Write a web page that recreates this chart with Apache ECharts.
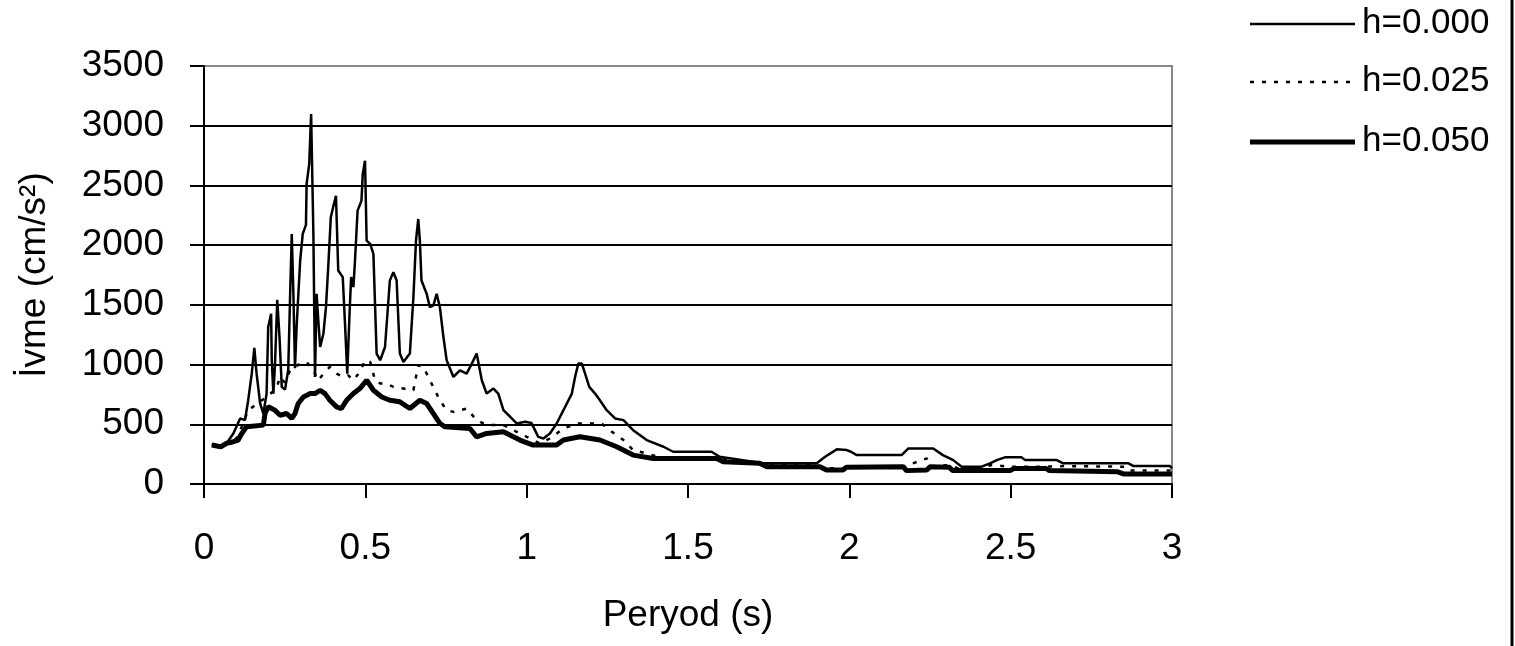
<!DOCTYPE html>
<html><head><meta charset="utf-8">
<script src="https://cdn.jsdelivr.net/npm/echarts@6/dist/echarts.min.js"></script>
<style>html,body{margin:0;padding:0;background:#fff}#c{width:1515px;height:646px}</style>
</head><body><div id="c"></div>
<script>
const seriesNames = ['h=0.000', 'h=0.025', 'h=0.050'];
const xTicks = [0, 0.5, 1, 1.5, 2, 2.5, 3];
const yTicks = [0, 500, 1000, 1500, 2000, 2500, 3000, 3500];

const t000 = [0.025,0.055,0.075,0.091,0.112,0.127,0.137,0.148,0.156,0.163,0.174,0.184,0.194,0.199,0.208,0.210,0.215,0.220,0.227,0.234,0.241,0.251,0.261,0.267,0.272,0.277,0.282,0.287,0.298,0.306,0.316,0.318,0.326,0.332,0.339,0.344,0.349,0.354,0.360,0.370,0.378,0.385,0.393,0.400,0.409,0.416,0.430,0.437,0.444,0.451,0.456,0.463,0.468,0.476,0.488,0.492,0.499,0.504,0.515,0.525,0.535,0.546,0.561,0.576,0.587,0.597,0.607,0.618,0.638,0.649,0.657,0.664,0.669,0.674,0.690,0.700,0.711,0.721,0.731,0.742,0.752,0.773,0.793,0.814,0.830,0.845,0.861,0.876,0.897,0.912,0.928,0.949,0.969,0.995,1.015,1.036,1.052,1.072,1.093,1.114,1.140,1.150,1.160,1.171,1.181,1.194,1.212,1.227,1.248,1.274,1.300,1.330,1.372,1.424,1.454,1.573,1.598,1.670,1.733,1.899,1.925,1.961,1.992,2.005,2.023,2.162,2.183,2.260,2.290,2.322,2.348,2.410,2.436,2.457,2.482,2.534,2.545,2.643,2.663,2.865,2.881,2.994,3.0];
const v000 = [330,312,360,423,549,535,701,924,1140,924,674,590,757,1314,1426,1036,757,1000,1543,1231,813,790,952,1593,2094,1593,969,1314,1871,2094,2170,2512,2679,3097,2094,896,1593,1378,1147,1258,1481,1815,2233,2316,2414,1788,1732,1342,924,1425,1732,1649,1871,2289,2372,2595,2707,2038,2010,1927,1092,1036,1147,1704,1774,1704,1092,1022,1092,1565,2038,2219,2038,1704,1593,1481,1495,1593,1481,1231,1036,896,952,924,1008,1092,869,757,799,757,618,563,507,521,510,395,381,423,507,618,757,896,1008,1008,924,813,757,701,618,549,535,451,368,312,270,270,228,200,173,173,228,290,284,270,242,242,298,298,242,200,145,145,173,200,223,223,200,200,173,173,150,150,130];

const t025 = [0.024,0.07,0.10,0.117,0.137,0.159,0.194,0.224,0.236,0.250,0.267,0.298,0.318,0.339,0.354,0.375,0.390,0.411,0.432,0.447,0.463,0.483,0.499,0.515,0.530,0.546,0.566,0.587,0.618,0.649,0.664,0.680,0.700,0.731,0.752,0.773,0.814,0.845,0.876,0.928,0.959,1.0,1.041,1.072,1.114,1.160,1.232,1.257,1.300,1.330,1.372,1.424,1.589,1.630,1.733,1.899,1.925,1.980,1.990,2.167,2.240,2.255,2.310,2.350,2.420,2.436,2.500,2.610,2.663,2.857,2.870,3.0];
const v025 = [326,345,380,480,618,660,729,799,896,850,952,1008,1022,952,869,938,980,924,896,910,869,938,1036,1022,869,841,841,813,799,785,994,980,869,701,618,604,632,535,493,493,451,395,340,381,465,507,507,451,368,284,256,214,214,200,159,159,131,131,145,145,214,145,159,117,117,159,145,145,150,145,112,112];

const t050 = [0.024,0.052,0.070,0.091,0.106,0.117,0.132,0.184,0.189,0.199,0.220,0.236,0.256,0.272,0.282,0.292,0.308,0.329,0.344,0.360,0.375,0.390,0.411,0.426,0.442,0.463,0.483,0.504,0.525,0.551,0.576,0.607,0.638,0.669,0.690,0.711,0.731,0.747,0.824,0.845,0.876,0.928,0.979,1.020,1.093,1.114,1.165,1.227,1.279,1.330,1.392,1.589,1.609,1.722,1.744,1.909,1.929,1.980,1.991,2.167,2.177,2.240,2.250,2.310,2.320,2.498,2.510,2.610,2.620,2.830,2.849,3.0];
const v050 = [326,312,340,354,368,423,479,493,590,646,618,576,590,549,590,674,729,757,757,785,757,701,646,632,701,757,799,869,785,729,701,688,632,701,674,590,507,479,465,395,423,437,368,326,326,368,395,368,312,242,214,214,186,173,145,145,117,117,140,145,112,117,145,140,112,112,130,130,112,103,84,84];

function zip(t, v) { return t.map((x, i) => [x, v[i]]); }

const FONT = '"Liberation Sans", Arial, sans-serif';
const lineStyles = [
  {color: '#000', width: 2.5},
  {color: '#000', width: 2.5, type: [4, 8]},
  {color: '#000', width: 5}
];
const seriesData = [zip(t000, v000), zip(t025, v025), zip(t050, v050)];

const legendY = [24, 82, 142];
const legendGraphics = [];
seriesNames.forEach((n, i) => {
  const ls = lineStyles[i];
  legendGraphics.push({type: 'line', z: 100,
    shape: {x1: 1250, y1: legendY[i], x2: 1355, y2: legendY[i]},
    style: {stroke: ls.color, lineWidth: ls.width, lineDash: ls.type || null}});
  legendGraphics.push({type: 'text', z: 100, x: 1362, y: legendY[i] - 1,
    style: {text: n, fontFamily: FONT, fontSize: 35, fill: '#000', textVerticalAlign: 'middle', verticalAlign: 'middle'}});
});

const chart = echarts.init(document.getElementById('c'), null, {renderer: 'canvas'});
chart.setOption({
  animation: false,
  backgroundColor: '#fff',
  grid: {left: 204, right: 343, top: 66, bottom: 162, show: true, borderColor: '#888', borderWidth: 2},
  xAxis: {
    type: 'value', min: 0, max: 3, interval: 0.5,
    name: 'Peryod (s)', nameLocation: 'middle', nameGap: 113,
    nameTextStyle: {fontFamily: FONT, fontSize: 37, color: '#000'},
    axisLine: {lineStyle: {color: '#000', width: 2}},
    axisTick: {show: true, length: 14, lineStyle: {color: '#000', width: 2}},
    axisLabel: {margin: 46, fontFamily: FONT, fontSize: 37, color: '#000',
      formatter: v => { const s = xTicks.find(t => Math.abs(t - v) < 1e-9); return s === undefined ? '' : String(s); }},
    splitLine: {show: false}
  },
  yAxis: {
    type: 'value', min: 0, max: 3500, interval: 500,
    name: 'İvme (cm/s²)', nameLocation: 'middle', nameGap: 151,
    nameTextStyle: {fontFamily: FONT, fontSize: 37, color: '#000'},
    axisLine: {show: true, lineStyle: {color: '#000', width: 2}},
    axisTick: {show: true, length: 14, lineStyle: {color: '#000', width: 2}},
    axisLabel: {margin: 40, fontFamily: FONT, fontSize: 37, color: '#000',
      formatter: v => { const s = yTicks.find(t => t === v); return s === undefined ? '' : String(s); }},
    splitLine: {show: true, showMinLine: false, showMaxLine: false, lineStyle: {color: '#000', width: 2}}
  },
  series: seriesNames.map((n, i) => ({
    name: n, type: 'line', data: seriesData[i], symbol: 'none', z: 3 + i,
    lineStyle: lineStyles[i], itemStyle: {color: '#000'}
  })),
  graphic: legendGraphics.concat([
    {type: 'line', z: 100, shape: {x1: 1512, y1: 0, x2: 1512, y2: 646}, style: {stroke: '#000', lineWidth: 3}}
  ])
});
</script></body></html>
